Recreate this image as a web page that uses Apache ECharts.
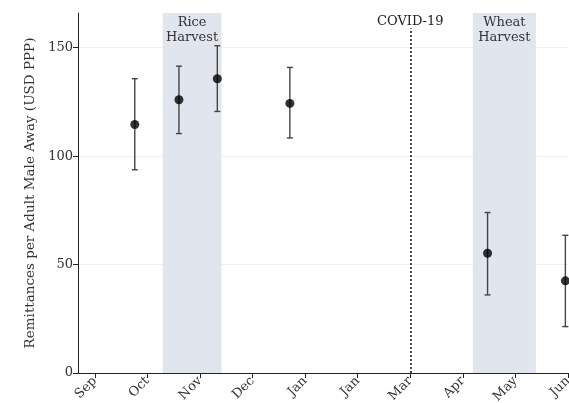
<!DOCTYPE html>
<html><head><meta charset="utf-8">
<script src="https://cdn.jsdelivr.net/npm/echarts@6/dist/echarts.min.js"></script>
<style>html,body{margin:0;padding:0;background:#fff}#c{width:569px;height:403px}</style>
</head><body><div id="c"></div>
<script>
// Month tick labels (x position = index)
const monthLabels = ['Sep','Oct','Nov','Dec','Jan','Jan','Mar','Apr','May','Jun'];
// Survey rounds: x position (months from Sep), mean, CI low, CI high
const pointX = [0.76, 1.60, 2.33, 3.71, 7.47, 8.95];
const pointMean = [114.6, 126.0, 135.7, 124.3, 55.2, 42.5];
const ciLow = [93.7, 110.4, 120.6, 108.4, 36.0, 21.4];
const ciHigh = [135.7, 141.5, 150.9, 140.9, 74.0, 63.5];
// Harvest periods
const riceHarvest = [1.29, 2.41];
const wheatHarvest = [7.19, 8.39];
const covidX = 6;
const yTicks = [0, 50, 100, 150];

const FONT = 'DejaVu Serif';
const chart = echarts.init(document.getElementById('c'), null, {renderer:'canvas'});
const scatterData = pointX.map((x,i)=>[x, pointMean[i]]);
const errData = pointX.map((x,i)=>[x, ciLow[i], ciHigh[i]]);

chart.setOption({
  animation:false,
  grid:{left:78, right:1, top:13, bottom:30, containLabel:false, outerBoundsMode:'none'},
  xAxis:{
    type:'value', min:-0.32, max:9,
    axisLine:{show:true, onZero:false, lineStyle:{color:'#222', width:1}},
    axisTick:{show:true, length:5, lineStyle:{color:'#222'}, customValues:monthLabels.map((_,i)=>i)},
    axisLabel:{show:true, rotate:45, margin:6, color:'#333', fontFamily:FONT, fontSize:13,
      customValues:monthLabels.map((_,i)=>i), formatter:v=>monthLabels[Math.round(v)]},
    splitLine:{show:false}
  },
  yAxis:{
    type:'value', min:0, max:166,
    name:'Remittances per Adult Male Away (USD PPP)', nameLocation:'middle', nameGap:41,
    nameTextStyle:{fontFamily:FONT, fontSize:13.5, color:'#333'},
    axisLine:{show:true, onZero:false, lineStyle:{color:'#222', width:1}},
    axisTick:{show:true, length:5, lineStyle:{color:'#222'}, customValues:yTicks},
    axisLabel:{color:'#333', fontFamily:FONT, fontSize:13, margin:5, customValues:yTicks},
    splitLine:{show:true, lineStyle:{color:'#eeeeee', width:1}}
  },
  series:[
    {
      type:'custom', z:3,
      data:errData,
      renderItem:function(params, api){
        const x = api.value(0);
        const lo = api.coord([x, api.value(1)]);
        const hi = api.coord([x, api.value(2)]);
        const w = 3;
        const st = {stroke:'#444', lineWidth:1.4};
        return {type:'group', children:[
          {type:'line', shape:{x1:lo[0], y1:lo[1], x2:hi[0], y2:hi[1]}, style:st},
          {type:'line', shape:{x1:lo[0]-w, y1:lo[1], x2:lo[0]+w, y2:lo[1]}, style:st},
          {type:'line', shape:{x1:hi[0]-w, y1:hi[1], x2:hi[0]+w, y2:hi[1]}, style:st}
        ]};
      },
      markArea:{
        silent:true,
        itemStyle:{color:'#e1e6ee'},
        label:{position:'insideTop', distance:2, fontFamily:FONT, fontSize:13, lineHeight:15, color:'#333'},
        data:[
          [{xAxis:riceHarvest[0], yAxis:0, name:'Rice\nHarvest'}, {xAxis:riceHarvest[1], yAxis:166}],
          [{xAxis:wheatHarvest[0], yAxis:0, name:'Wheat\nHarvest'}, {xAxis:wheatHarvest[1], yAxis:166}]
        ]
      },
      markLine:{
        silent:true, symbol:'none',
        lineStyle:{color:'#111', type:[2,2], width:1.5},
        label:{position:'end', formatter:'COVID-19', fontFamily:FONT, fontSize:13, color:'#222', distance:0},
        data:[[{coord:[covidX,0]},{coord:[covidX,159]}]]
      }
    },
    {
      type:'scatter', z:4,
      symbol:'circle', symbolSize:9,
      itemStyle:{color:'#000'},
      data:scatterData
    }
  ]
});
</script></body></html>
